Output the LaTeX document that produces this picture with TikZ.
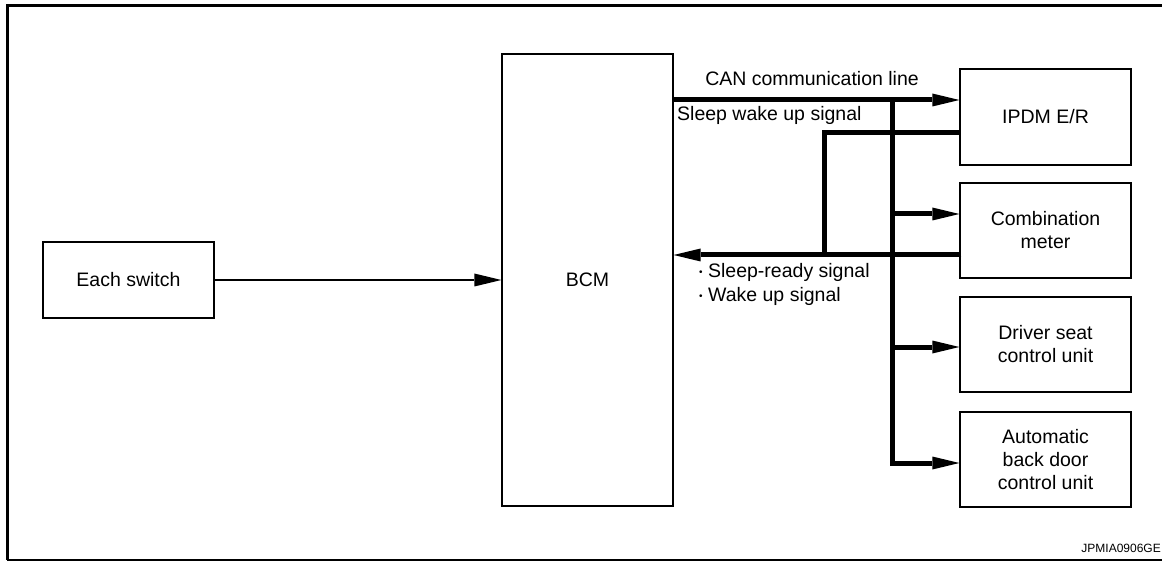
\documentclass[tikz,border=0pt]{standalone}
\usepackage{fontspec}
\setmainfont{Liberation Sans}
\usetikzlibrary{arrows.meta}
\newcommand{\mybul}{\raisebox{1.5pt}{\fontsize{10}{10}\selectfont•}}
\begin{document}
\begin{tikzpicture}[x=1pt,y=-1pt,
  box/.style={draw,line width=1.3pt,rectangle,inner sep=0pt,align=center,
    font=\fontsize{19.5}{23}\selectfont},
  lbl/.style={inner sep=0pt,font=\fontsize{19.5}{24}\selectfont},
  arr/.style={-{Triangle[length=27pt,width=13pt,line width=0pt]}},
  bus/.style={line width=5pt},
  thinline/.style={line width=1.3pt}]
\useasboundingbox (0,0) rectangle (1162,561);
% frame
\draw[line width=3pt] (7,6) -- (1162,6);
\draw[line width=3pt] (7,4.5) -- (7,560);
\draw[line width=1.8pt] (7,560) -- (1162,560);
% boxes
\node[box,minimum width=171pt,minimum height=76pt] (sw) at (128.5,280) {Each switch};
\node[box,minimum width=171pt,minimum height=452pt] (bcm) at (587.5,280) {BCM};
\node[box,minimum width=171pt,minimum height=96pt] (ipdm) at (1045.5,117) {IPDM E/R};
\node[box,minimum width=171pt,minimum height=95pt] (comb) at (1045.5,230.5) {Combination\\meter};
\node[box,minimum width=171pt,minimum height=95pt] (drv) at (1045.5,344.5) {Driver seat\\control unit};
\node[box,minimum width=171pt,minimum height=95pt] (abd) at (1045.5,459.5) {Automatic\\back door\\control unit};
% coordinates
\coordinate (bustop) at (892,100);
\coordinate (ret) at (824,255);
\coordinate (combin) at ([yshift=16.5pt]comb.west);
\coordinate (combout) at ([yshift=-24.5pt,xshift=2pt]comb.west);
\coordinate (drvin) at ([yshift=-2.5pt]drv.west);
\coordinate (abdin) at ([yshift=-3.5pt]abd.west);
\coordinate (ipdmout) at ([yshift=-16pt]ipdm.west);
% connectors
\draw[thinline,arr] (sw.east) -- (bcm.west |- sw.east);
\draw[bus,arr] (bcm.east |- bustop) -- (ipdm.west |- bustop);
\draw[bus,arr] (bustop) |- (abdin);
\draw[bus,arr] (bustop |- combin) -- (combin);
\draw[bus,arr] (bustop |- drvin) -- (drvin);
\draw[bus] (ipdmout) -| (ret);
\draw[bus,arr] (combout) -- (bcm.east |- ret);
% labels
\node[lbl] (canl) at (812,79) {CAN communication line};
\node[lbl,anchor=west] (swl) at (677,115) {Sleep wake up signal};
\node[lbl,anchor=north west,align=left] (srl) at (699,263) {\mybul\ Sleep-ready signal\\\mybul\ Wake up signal};
\node[inner sep=0pt,anchor=east,font=\fontsize{12}{13}\selectfont] (code) at (1161,548) {JPMIA0906GE};
\end{tikzpicture}
\end{document}
